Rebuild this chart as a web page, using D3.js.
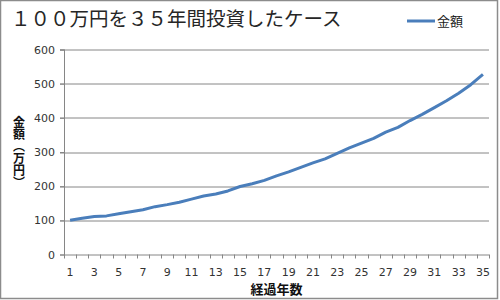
<!DOCTYPE html>
<html>
<head>
<meta charset="utf-8">
<script src="https://cdn.jsdelivr.net/npm/d3@7"></script>
<style>
  body { margin: 0; background: #fff; }
  svg { display: block; }
</style>
</head>
<body>
<div id="chart"></div>
<script>
const years = d3.range(1, 36);
const amounts = [100, 106, 111, 113, 119, 125, 131, 140, 146, 153,
                 162, 171, 177, 186, 199, 207, 217, 230, 242, 255,
                 268, 280, 296, 312, 326, 340, 358, 372, 392, 410,
                 430, 450, 472, 497, 527];
const yTicks = [0, 100, 200, 300, 400, 500, 600];
const title = "１００万円を３５年間投資したケース";
const seriesName = "金額";
const xTitle = "経過年数";
const yTitleText = "金額︵万円︶";

const W = 500, H = 300;
const margin = { top: 49.5, right: 11, bottom: 45.5, left: 64 };
const width = W - margin.left - margin.right;
const height = H - margin.top - margin.bottom;
const gridColor = "#868686";
const lineColor = "#4a7ebb";
const font = "'DejaVu Sans', Verdana, sans-serif";
const jpFont = "'Noto Sans CJK JP', sans-serif";

const svg = d3.select("#chart").append("svg")
  .attr("width", W)
  .attr("height", H);

// outer frame
svg.append("rect")
  .attr("x", 0.5).attr("y", 0.5)
  .attr("width", 497).attr("height", 298)
  .attr("fill", "#fff")
  .attr("stroke", "#8c8c8c")
  .attr("stroke-width", 1.5);

svg.append("text")
  .attr("x", 11).attr("y", 26)
  .attr("font-family", jpFont)
  .attr("font-size", 19.5)
  .attr("fill", "#262626")
  .text(title);

const g = svg.append("g")
  .attr("transform", `translate(${margin.left},${margin.top})`);

const x = d3.scaleBand().domain(years).range([0, width]);
const y = d3.scaleLinear().domain([0, 600]).range([height, 0]);

// gridlines
g.append("g")
  .selectAll("line")
  .data(yTicks.filter(d => d > 0))
  .join("line")
  .attr("x1", -4).attr("x2", width)
  .attr("y1", d => Math.round(y(d)) + 0.5)
  .attr("y2", d => Math.round(y(d)) + 0.5)
  .attr("stroke", gridColor);

// y axis
const yAxis = g.append("g")
  .call(d3.axisLeft(y).tickValues(yTicks).tickSize(4).tickPadding(5));
yAxis.select(".domain").attr("stroke", gridColor);
yAxis.selectAll(".tick line").attr("stroke", gridColor);
yAxis.selectAll("text")
  .attr("font-family", font).attr("font-size", 11).attr("fill", "#333");

// x axis: ticks between categories
const xAxisG = g.append("g").attr("transform", `translate(0,${height})`);
xAxisG.append("line")
  .attr("x1", 0).attr("x2", width)
  .attr("y1", 0.5).attr("y2", 0.5)
  .attr("stroke", gridColor);
xAxisG.selectAll(".xtick")
  .data(years.concat([36]))
  .join("line")
  .attr("class", "xtick")
  .attr("x1", d => Math.round(d === 36 ? width : x(d)) + 0.5)
  .attr("x2", d => Math.round(d === 36 ? width : x(d)) + 0.5)
  .attr("y1", 0).attr("y2", 4)
  .attr("stroke", gridColor);
xAxisG.selectAll(".xlabel")
  .data(years.filter(d => d % 2 === 1))
  .join("text")
  .attr("class", "xlabel")
  .attr("x", d => x(d) + x.bandwidth() / 2)
  .attr("y", 21.5)
  .attr("text-anchor", "middle")
  .attr("font-family", font).attr("font-size", 11).attr("fill", "#333")
  .text(d => d);

// y axis line drawn over
g.append("line")
  .attr("x1", 0.5).attr("x2", 0.5)
  .attr("y1", 0).attr("y2", height)
  .attr("stroke", gridColor);

// series line
const line = d3.line()
  .x((d, i) => x(years[i]) + x.bandwidth() / 2)
  .y(d => y(d));
g.append("path")
  .datum(amounts)
  .attr("d", line)
  .attr("fill", "none")
  .attr("stroke", lineColor)
  .attr("stroke-width", 3)
  .attr("stroke-linejoin", "round");

// axis titles
svg.append("text")
  .attr("x", margin.left + width / 2)
  .attr("y", 294)
  .attr("text-anchor", "middle")
  .attr("font-family", jpFont)
  .attr("font-size", 13)
  .attr("font-weight", "bold")
  .attr("fill", "#111")
  .text(xTitle);

svg.append("text")
  .attr("x", 19)
  .attr("y", 116)
  .attr("font-family", jpFont)
  .attr("font-size", 12)
  .attr("font-weight", "bold")
  .attr("fill", "#111")
  .style("writing-mode", "vertical-rl")
  .style("text-orientation", "upright")
  .text(yTitleText);

// legend
const legend = svg.append("g").attr("transform", "translate(407,21)");
legend.append("line")
  .attr("x1", 0).attr("x2", 28)
  .attr("stroke", lineColor)
  .attr("stroke-width", 3);
legend.append("text")
  .attr("x", 30).attr("y", 5)
  .attr("font-family", jpFont)
  .attr("font-size", 13)
  .attr("fill", "#222")
  .text(seriesName);
</script>
</body>
</html>
